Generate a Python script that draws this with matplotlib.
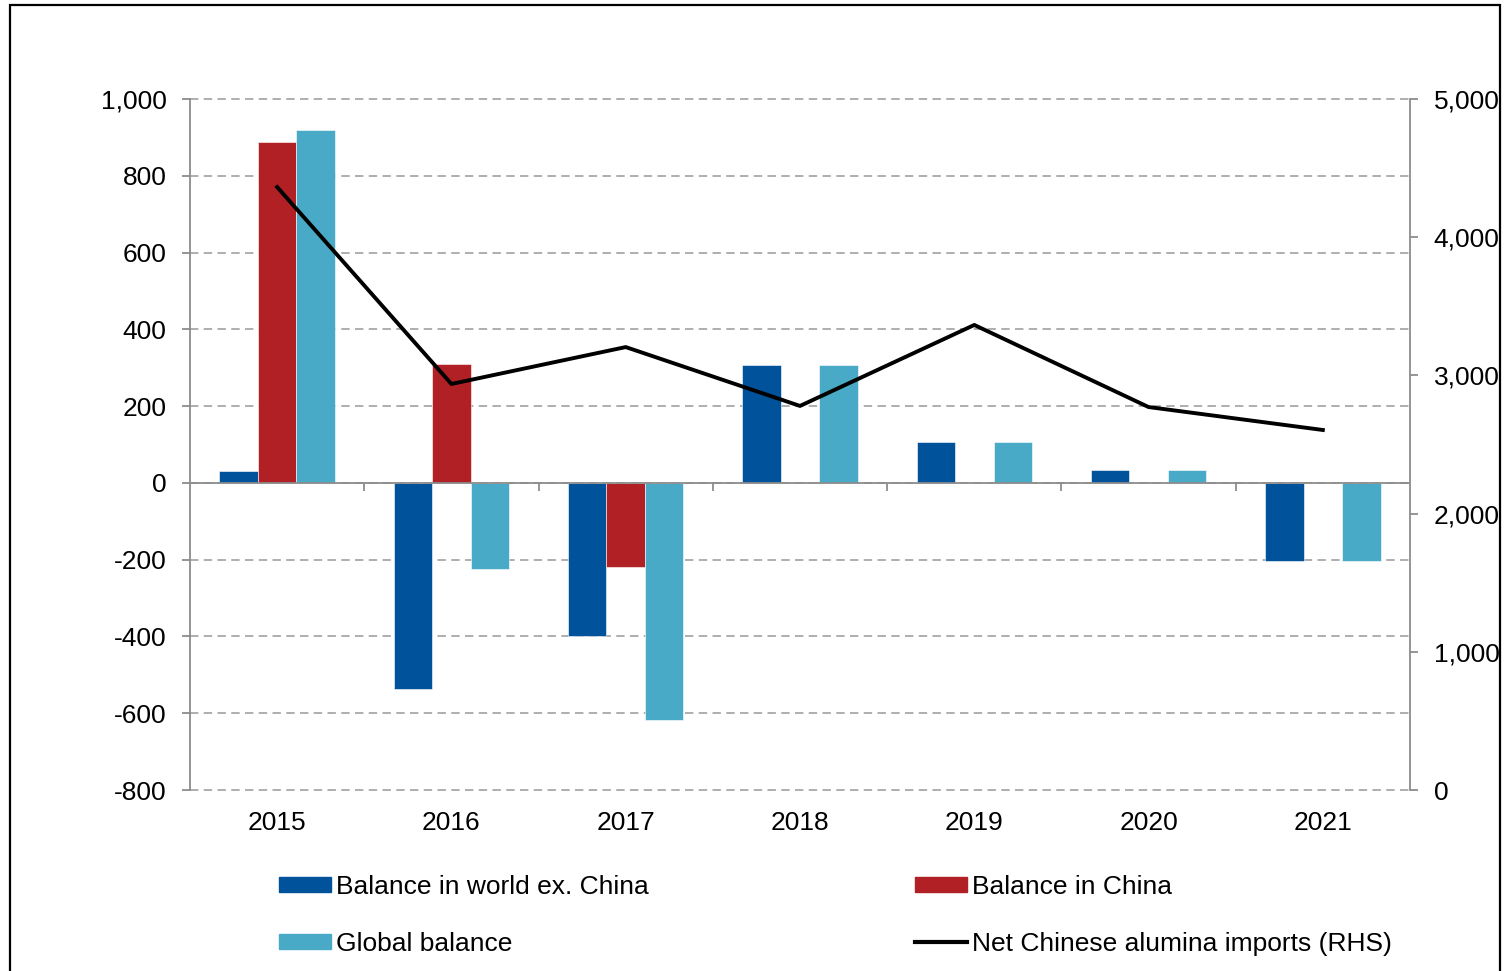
import numpy as np
import matplotlib.pyplot as plt
from matplotlib.patches import Rectangle
from matplotlib.lines import Line2D

plt.rcParams['font.family'] = ['Liberation Sans', 'DejaVu Sans']

years = ['2015', '2016', '2017', '2018', '2019', '2020', '2021']
world_ex_china = [31, -537, -398, 307, 107, 34, -203]
china = [888, 310, -219, 0, 0, 0, 0]
global_bal = [919, -224, -617, 307, 107, 34, -203]
net_imports = [4363, 2938, 3205, 2779, 3365, 2771, 2605]

c_world = '#00529B'
c_china = '#B02025'
c_global = '#48AAC6'
grey = '#8C8C8C'
fs = 19

W, H = 1505, 971
fig = plt.figure(figsize=(W / 100, H / 100), dpi=100)
ax = fig.add_axes([190 / W, 1 - 790 / H, 1220 / W, 691 / H])

x = np.arange(len(years))
bw = 0.221
ax.bar(x - bw, world_ex_china, bw, color=c_world, edgecolor='#FFFFFF', linewidth=0.4, zorder=3)
ax.bar(x, china, bw, color=c_china, edgecolor='#FFFFFF', linewidth=0.4, zorder=3)
ax.bar(x + bw, global_bal, bw, color=c_global, edgecolor='#FFFFFF', linewidth=0.4, zorder=3)

ax.set_xlim(-0.5, len(years) - 0.5)
ax.set_ylim(-800, 1000)
ax.set_yticks(range(-800, 1001, 200))
ax.yaxis.set_major_formatter(plt.FuncFormatter(lambda v, p: f'{int(v):,}'))
ax.set_xticks(x)
ax.set_xticklabels(years)
ax.grid(axis='y', color='#999999', linestyle=(0, (5.5, 3.5)), linewidth=1.1, zorder=0)
for gl in ax.get_ygridlines():
    gl.set_clip_on(False)
ax.axhline(0, color=grey, linewidth=1.3, zorder=4)
ax.vlines(x[:-1] + 0.5, -20, 0, color=grey, linewidth=1.3, zorder=4)

for s in ['top', 'bottom', 'right']:
    ax.spines[s].set_visible(False)
ax.spines['left'].set_color(grey)
ax.spines['left'].set_linewidth(1.3)
ax.tick_params(axis='y', labelsize=fs, length=6, width=1.3, color=grey, pad=11)
ax.tick_params(axis='x', labelsize=fs, length=0, pad=15)

ax2 = ax.twinx()
ax2.plot(x, net_imports, color='black', linewidth=2.8, zorder=5)
ax2.set_ylim(0, 5000)
ax2.set_yticks(range(0, 5001, 1000))
ax2.yaxis.set_major_formatter(plt.FuncFormatter(lambda v, p: f'{int(v):,}'))
for s in ['top', 'bottom', 'left']:
    ax2.spines[s].set_visible(False)
ax2.spines['right'].set_color(grey)
ax2.spines['right'].set_linewidth(1.3)
ax2.tick_params(axis='y', labelsize=fs, length=6, width=1.3, color=grey, pad=11)

handles = [Rectangle((0, 0), 1, 1, color=c_world),
           Rectangle((0, 0), 1, 1, color=c_global),
           Rectangle((0, 0), 1, 1, color=c_china),
           Line2D([], [], color='black', linewidth=3)]
labels = ['Balance in world ex. China', 'Global balance',
          'Balance in China', 'Net Chinese alumina imports (RHS)']
fig.legend(handles, labels, ncol=2, loc='upper left',
           bbox_to_anchor=(279 / W, 1 - 875 / H), frameon=False, fontsize=fs,
           handlelength=1.97, handleheight=0.52, handletextpad=0.19,
           columnspacing=10.1, labelspacing=1.25, borderpad=0, borderaxespad=0)

fig.patches.append(Rectangle((10 / W, -0.05), 1490 / W, 1.05 - 5 / H,
                             transform=fig.transFigure, fill=False,
                             edgecolor='black', linewidth=1.6))

fig.savefig('out.png', dpi=100)
